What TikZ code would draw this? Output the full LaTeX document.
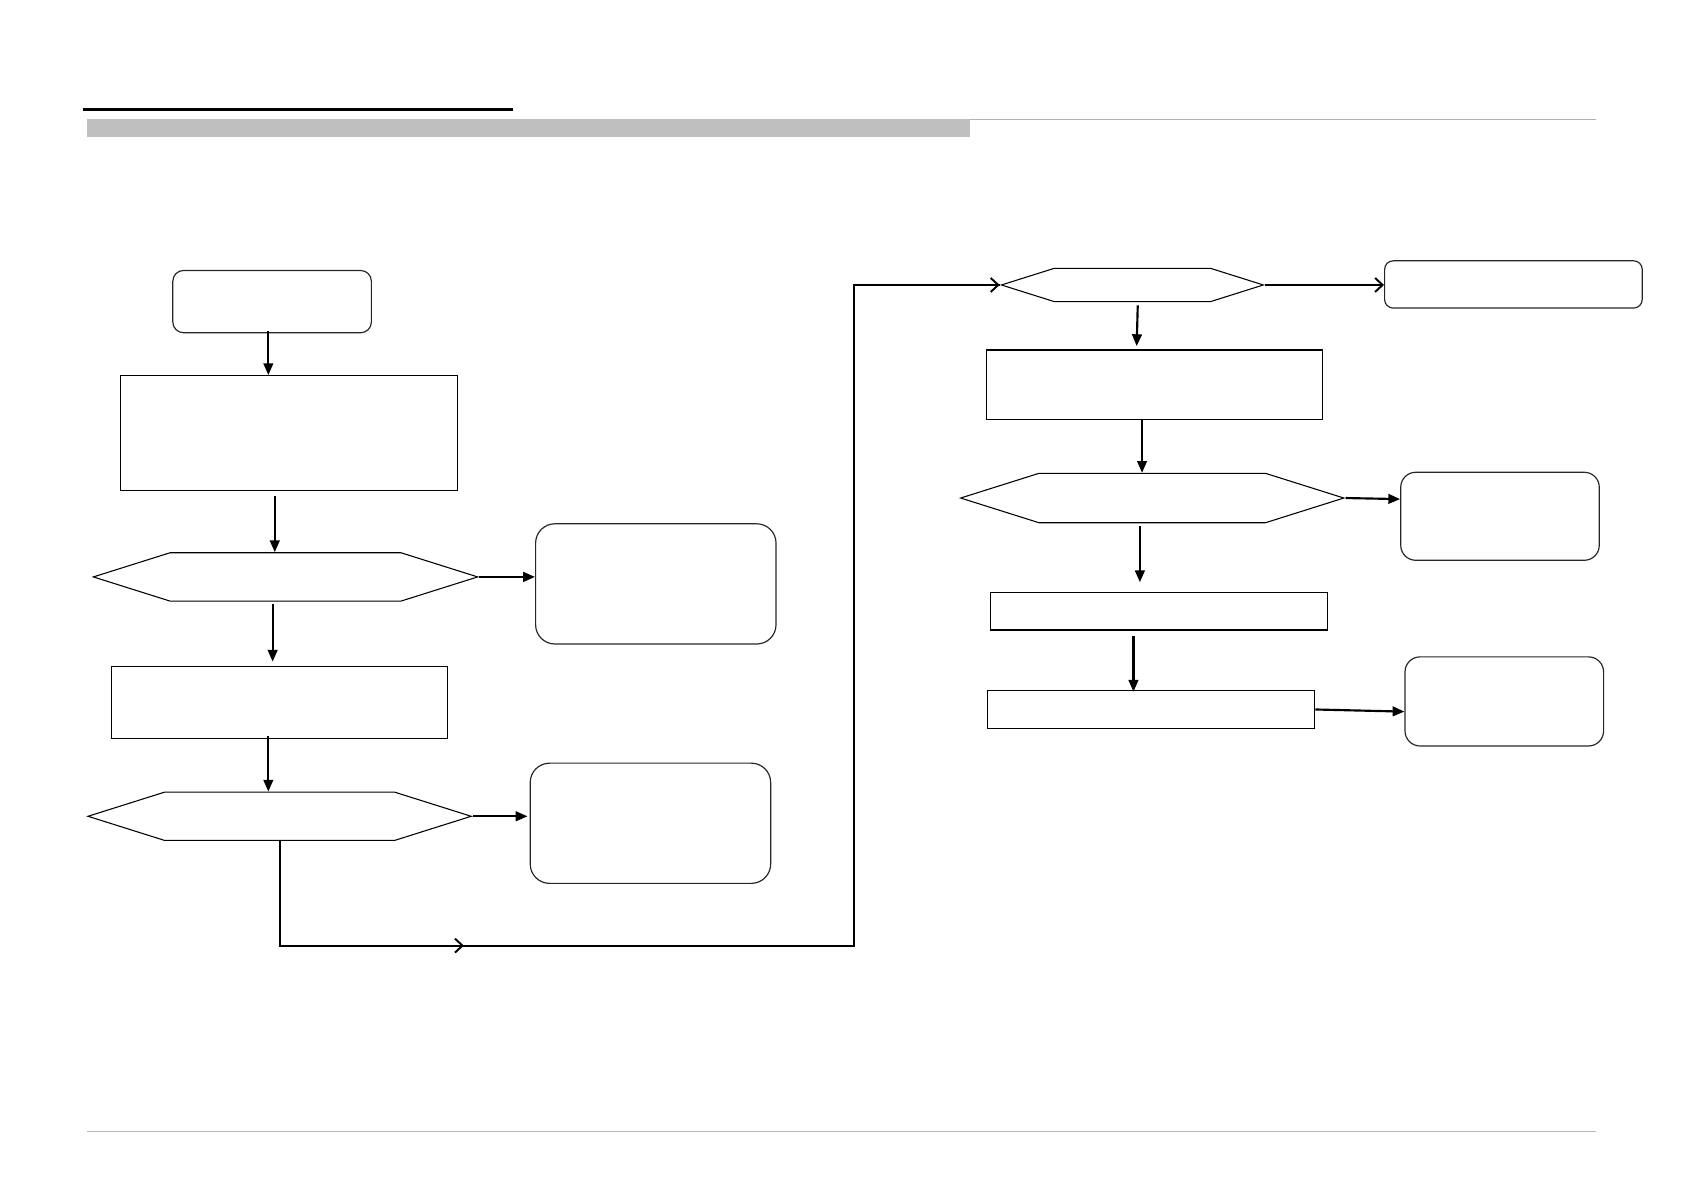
\documentclass[tikz,border=0pt]{standalone}
\usetikzlibrary{arrows.meta,shapes.symbols,calc}
\begin{document}
\begin{tikzpicture}[x=1pt,y=-1pt,
  box/.style={draw=black,line width=1.1pt,rectangle,inner sep=0pt},
  rbox/.style={draw=black!85,line width=1.1pt,rectangle,inner sep=0pt,rounded corners=#1},
  hexa/.style={draw=black,line width=1.0pt,signal,signal to=east and west,signal pointer angle=35,inner sep=0pt},
  arr/.style={line width=2pt,-{Triangle[length=11pt,width=9pt]}},
  oarr/.style={line width=2pt,-{Straight Barb[length=7pt,width=13pt,line width=1.8pt]}},
  conn/.style={line width=2pt}]
\useasboundingbox (0,0) rectangle (1568,1110);
% header and footer rules
\draw[line width=3.2pt,black] (77,102) -- (478,102);
\fill[black!25] (81,111) rectangle (904,128);
\draw[line width=0.9pt,black!30] (904,111) -- (1487,111);
\draw[line width=1.3pt,black!28] (81,1054) -- (1487,1054);
% left column
\node[rbox=10pt,minimum width=185pt,minimum height=58pt] (start) at (253.5,281) {};
\node[box,minimum width=314pt,minimum height=107pt] (r1) at (269,403.5) {};
\node[hexa,minimum width=358pt,minimum height=45pt] (h1) at (266,537.5) {};
\node[rbox=18pt,minimum width=224pt,minimum height=112pt] (e1) at (611,544) {};
\node[box,minimum width=313pt,minimum height=67pt] (r2) at (260.5,654.5) {};
\node[hexa,minimum width=357pt,minimum height=45pt] (h2) at (260.5,760.5) {};
\node[rbox=18pt,minimum width=224pt,minimum height=112pt] (e2) at (606,767) {};
% right column
\node[hexa,minimum width=244pt,minimum height=31pt] (h3) at (1055,265.5) {};
\node[rbox=8pt,minimum width=240pt,minimum height=44pt] (e3) at (1410,265) {};
\node[box,minimum width=313pt,minimum height=65pt] (r3) at (1075.5,358.5) {};
\node[hexa,minimum width=357pt,minimum height=46pt] (h4) at (1073.5,464) {};
\node[rbox=14pt,minimum width=185pt,minimum height=82pt] (e4) at (1397.5,481) {};
\node[box,minimum width=314pt,minimum height=35pt] (r4) at (1080,569.5) {};
\node[box,minimum width=305pt,minimum height=36pt] (r5) at (1072.5,661) {};
\node[rbox=14pt,minimum width=185pt,minimum height=83pt] (e5) at (1401.5,653.5) {};
% connectors left
\draw[arr] ([xshift=-3.5pt,yshift=2pt]start.south) -- ([xshift=-3.5pt]start.south |- r1.north);
\draw[arr] ([xshift=-13pt,yshift=-5pt]r1.south) -- ([xshift=-13pt]r1.south |- h1.north);
\draw[arr] (h1.east) -- (h1.east -| e1.west);
\draw[arr] ([xshift=-12pt,yshift=-2pt]h1.south) -- ([xshift=-12pt,yshift=4pt]h1.south |- r2.north);
\draw[arr] ([xshift=-10.5pt,yshift=3pt]r2.south) -- ([xshift=-10.5pt]r2.south |- h2.north);
\draw[arr] (h2.east) -- ([xshift=-2pt]h2.east -| e2.west);
% long loop connector
\coordinate (c1) at (261,881);
\coordinate (c2) at (796,881);
\draw[conn] ([xshift=0.5pt]h2.south) -- ([xshift=0.5pt]h2.south |- c1) -- (c2) -- (c2 |- h3.west) -- (h3.west);
\draw[oarr] ([xshift=0.5pt]h2.south |- c1) -- ($(c1)!0.32!(c2)$);
\draw[oarr] ($(c2 |- h3.west)+(60,0)$) -- (h3.west);
% connectors right
\draw[oarr] (h3.east) -- (h3.east -| e3.west);
\draw[arr] ([xshift=5pt,yshift=-3pt]h3.south) -- ([xshift=4pt,yshift=3pt]h3.south |- r3.north);
\draw[arr] ([xshift=-11.5pt]r3.south) -- ([xshift=-11.5pt]r3.south |- h4.north);
\draw[arr] (h4.east) -- ([yshift=-1pt]h4.east -| e4.west);
\draw[arr] ([xshift=-11.5pt,yshift=-3pt]h4.south) -- ([xshift=-11.5pt,yshift=9pt]h4.south |- r4.north);
\draw[arr] ([xshift=-24pt,yshift=-5pt]r4.south) -- ([xshift=-24pt,yshift=-2pt]r4.south |- r5.north);
\draw[arr] (r5.east) -- ([yshift=-9.5pt]e5.west);
\end{tikzpicture}
\end{document}
